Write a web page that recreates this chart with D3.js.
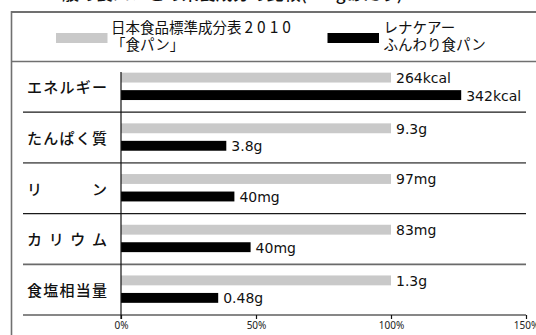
<!DOCTYPE html>
<html><head><meta charset="utf-8">
<script src="https://cdn.jsdelivr.net/npm/d3@7"></script>
<style>
html,body{margin:0;padding:0;background:#fff;overflow:hidden}
svg{display:block}
</style></head>
<body>
<svg id="chart" width="536" height="335"></svg>
<script>
const title = "■　一般の食パンとの栄養成分の比較(100gあたり)";
const categories = ["エネルギー", "たんぱく質", "リ　　ン", "カリウム", "食塩相当量"];
const seriesNames = [[["日本食品標準成分表", "2010"], ["「食パン」"]], [["レナケアー"], ["ふんわり食パン"]]];
// percentage relative to the standard bread
const standardPct = [100, 100, 100, 100, 100];
const renacarePct = [126, 39, 42, 48, 36];
const standardLabels = ["264kcal", "9.3g", "97mg", "83mg", "1.3g"];
const renacareLabels = ["342kcal", "3.8g", "40mg", "40mg", "0.48g"];
const tickValues = [0, 50, 100, 150];

const svg = d3.select("#chart");
const JP = "'Noto Sans CJK JP','Noto Sans',sans-serif";
const GRAY = "#c9c9c9";

// title (mostly clipped above the view)
svg.append("text").attr("x", 11).attr("y", -0.5).attr("font-family", JP)
  .attr("font-size", 17).attr("font-weight", 500).attr("fill", "#111").text(title);

// frame
const frame = svg.append("g").attr("stroke", "#707070").attr("fill", "none");
frame.append("line").attr("x1", 11.5).attr("x2", 536).attr("y1", 12).attr("y2", 12).attr("stroke-width", 2);
frame.append("line").attr("x1", 11.5).attr("x2", 11.5).attr("y1", 11).attr("y2", 335).attr("stroke-width", 1.6);
frame.append("line").attr("x1", 11.5).attr("x2", 536).attr("y1", 61.5).attr("y2", 61.5).attr("stroke-width", 1.6);

// legend
const legend = [
  {x: 56, color: GRAY, tx: 111},
  {x: 327.5, color: "#000", tx: 383.5}
];
legend.forEach((l, i) => {
  svg.append("rect").attr("x", l.x).attr("y", 33).attr("width", 51.5).attr("height", 10).attr("fill", l.color);
  seriesNames[i].forEach((parts, j) => {
    const t = svg.append("text").attr("font-family", JP).attr("font-size", 14.5).attr("fill", "#111")
      .attr("x", l.tx).attr("y", 32.5 + j * 17.5);
    parts.forEach((p, k) => {
      const ts = t.append("tspan").text(p);
      if (k > 0) ts.attr("dx", 3).attr("letter-spacing", 4).attr("font-size", 15.5);
    });
  });
});

// scales
const x = d3.scaleLinear().domain([0, 150]).range([121, 526]);
const y = d3.scaleBand().domain(categories).range([61.5, 315]);
const bw = y.bandwidth();

// separators
const seps = categories.slice(1);
svg.append("g").selectAll("line").data(seps).join("line")
  .attr("x1", 23).attr("x2", 526)
  .attr("y1", d => y(d)).attr("y2", d => y(d))
  .attr("stroke", (d, i) => i % 2 === 0 ? "#1a1a1a" : "#6a6a6a")
  .attr("stroke-width", (d, i) => i % 2 === 0 ? 1.2 : 1.8);

// bars
const rows = categories.map((c, i) => ({c, s: standardPct[i], r: renacarePct[i], sl: standardLabels[i], rl: renacareLabels[i]}));
const g = svg.append("g");
g.selectAll("rect.s").data(rows).join("rect").attr("class", "s")
  .attr("x", x(0)).attr("y", d => y(d.c) + bw * 0.22)
  .attr("width", d => x(d.s) - x(0)).attr("height", bw * 0.195).attr("fill", GRAY);
g.selectAll("rect.r").data(rows).join("rect").attr("class", "r")
  .attr("x", x(0)).attr("y", d => y(d.c) + bw * 0.565)
  .attr("width", d => x(d.r) - x(0)).attr("height", bw * 0.195).attr("fill", "#000");

const VF = "'DejaVu Sans',sans-serif";
g.selectAll("text.sl").data(rows).join("text").attr("class", "sl")
  .attr("x", d => x(d.s) + 5).attr("y", d => y(d.c) + bw * 0.22 + bw * 0.195 + 0.5)
  .attr("font-family", VF).attr("font-size", 14).attr("fill", "#111").text(d => d.sl);
g.selectAll("text.rl").data(rows).join("text").attr("class", "rl")
  .attr("x", d => x(d.r) + 5).attr("y", d => y(d.c) + bw * 0.565 + bw * 0.195 + 0.5)
  .attr("font-family", VF).attr("font-size", 14).attr("fill", "#111").text(d => d.rl);

// category labels
svg.append("g").selectAll("text").data(categories).join("text")
  .attr("x", 27).attr("y", d => y(d) + bw / 2)
  .attr("dominant-baseline", "central")
  .attr("textLength", 80).attr("lengthAdjust", "spacing")
  .attr("font-family", JP).attr("font-size", 15).attr("font-weight", 500).attr("fill", "#111")
  .text(d => d);

// zero line
svg.append("line").attr("x1", x(0)).attr("x2", x(0)).attr("y1", 72).attr("y2", 319)
  .attr("stroke", "#111").attr("stroke-width", 1.2);

// bottom axis
svg.append("line").attr("x1", 23).attr("x2", 526).attr("y1", 315).attr("y2", 315)
  .attr("stroke", "#111").attr("stroke-width", 1.2);
const ax = svg.append("g").attr("transform", "translate(0,315)")
  .call(d3.axisBottom(x).tickValues(tickValues).tickFormat(d => d + "%").tickSize(4).tickPadding(3));
ax.select(".domain").remove();
ax.selectAll(".tick line").attr("stroke", "#111").attr("stroke-width", 1.2);
ax.selectAll(".tick text").attr("font-family", "'Noto Sans',sans-serif").attr("font-size", 10).attr("fill", "#222");
</script>
</body></html>
